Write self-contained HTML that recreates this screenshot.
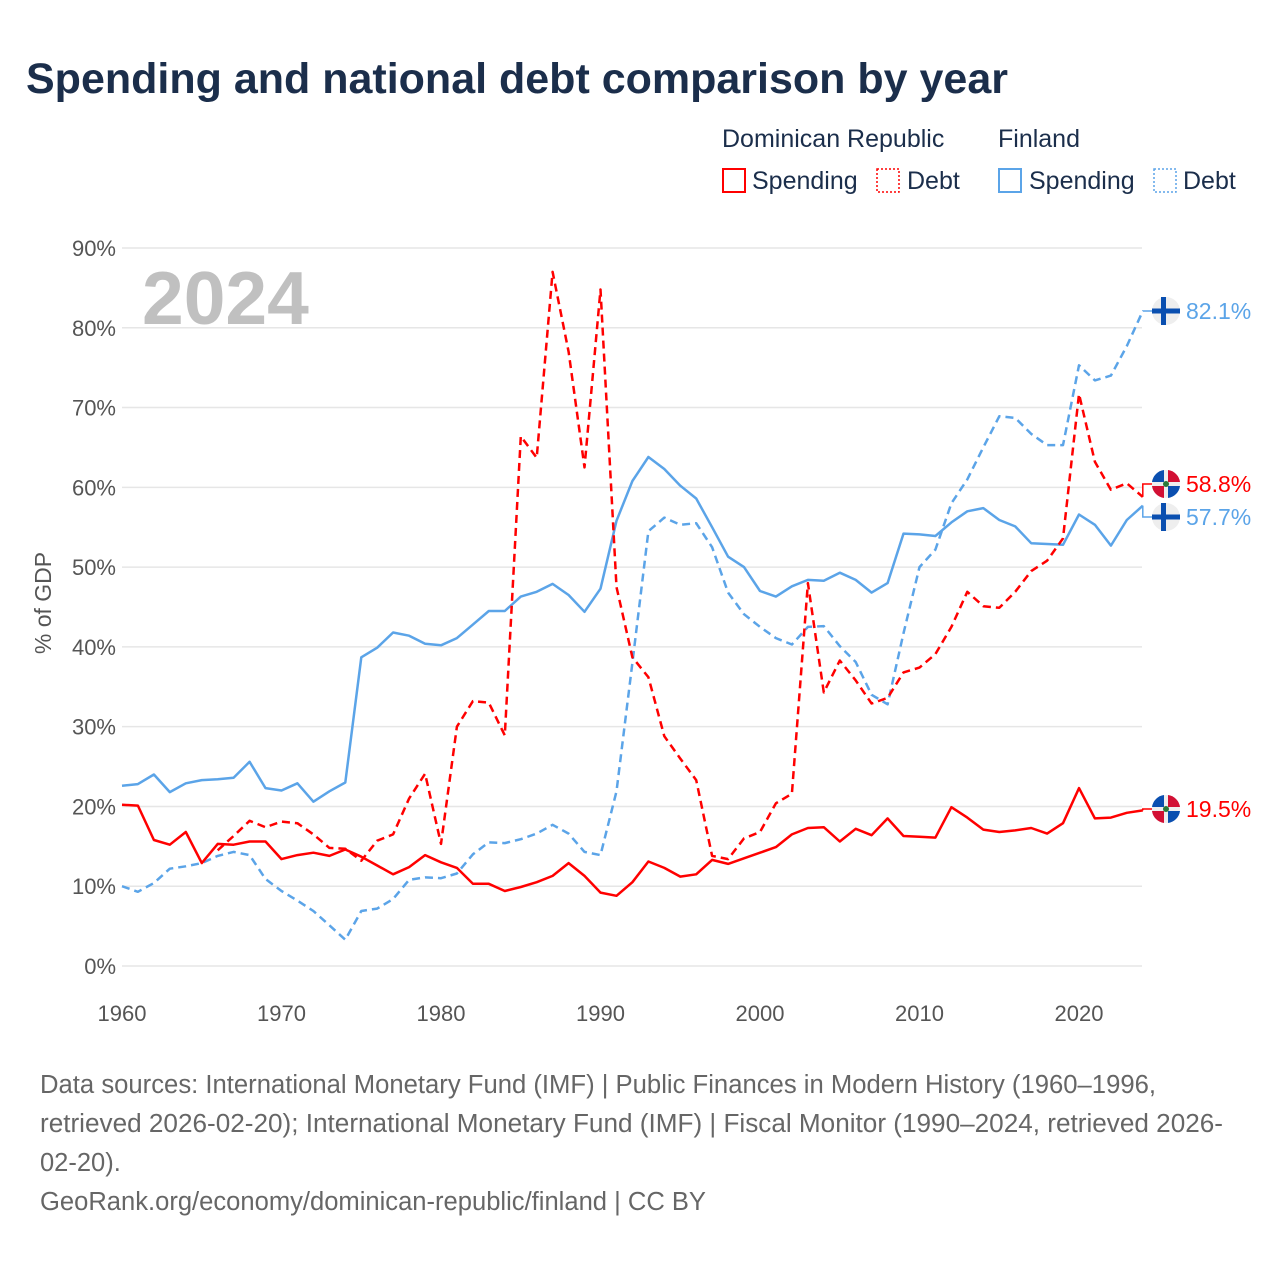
<!DOCTYPE html>
<html><head><meta charset="utf-8"><style>
body{margin:0;background:#fff;font-family:"Liberation Sans",sans-serif;}
#wrap{position:relative;width:1280px;height:1280px;overflow:hidden;}
</style></head><body>
<div id="wrap">
<svg id="chart" width="1280" height="1280">
<text x="26" y="93" font-size="43" font-weight="bold" fill="#1b2e4b">Spending and national debt comparison by year</text>
<g font-size="25" fill="#1b2e4b">
<text x="722" y="147">Dominican Republic</text>
<text x="998" y="147">Finland</text>
<g><rect x="723" y="169" width="22" height="23" fill="none" stroke="#f00" stroke-width="2"/><text x="752" y="189">Spending</text></g>
<g><rect x="877" y="169" width="22" height="23" fill="none" stroke="#f00" stroke-width="1.5" stroke-dasharray="2,2"/><text x="907" y="189">Debt</text></g>
<g><rect x="999" y="169" width="22" height="23" fill="none" stroke="#5ba4e8" stroke-width="2"/><text x="1029" y="189">Spending</text></g>
<g><rect x="1154" y="169" width="22" height="23" fill="none" stroke="#5ba4e8" stroke-width="1.5" stroke-dasharray="2,2"/><text x="1183" y="189">Debt</text></g>
</g>
<text x="142" y="324" font-size="75" font-weight="bold" fill="#c0c0c0">2024</text>
<text transform="translate(51,603) rotate(-90)" text-anchor="middle" font-size="23" fill="#555">% of GDP</text>
<g id="grid"></g><g id="series"></g><g id="ends"></g>
<g font-size="25.5" fill="#666">
<text x="40" y="1093" textLength="1116" lengthAdjust="spacingAndGlyphs">Data sources: International Monetary Fund (IMF) | Public Finances in Modern History (1960–1996,</text>
<text x="40" y="1132" textLength="1183" lengthAdjust="spacingAndGlyphs">retrieved 2026-02-20); International Monetary Fund (IMF) | Fiscal Monitor (1990–2024, retrieved 2026-</text>
<text x="40" y="1171">02-20).</text>
<text x="40" y="1210" textLength="666" lengthAdjust="spacingAndGlyphs">GeoRank.org/economy/dominican-republic/finland | CC BY</text>
</g>
</svg>
</div>
<script>
const startYear = 1960;
const yTicks = [0,10,20,30,40,50,60,70,80,90];
const xTicks = [1960,1970,1980,1990,2000,2010,2020];
const drSpending = [20.2,20.1,15.8,15.2,16.8,12.9,15.3,15.2,15.6,15.6,13.4,13.9,14.2,13.8,14.6,13.7,12.6,11.5,12.4,13.9,13.0,12.3,10.3,10.3,9.4,9.9,10.5,11.3,12.9,11.3,9.2,8.8,10.5,13.1,12.3,11.2,11.5,13.3,12.8,13.5,14.2,14.9,16.5,17.3,17.4,15.6,17.2,16.4,18.5,16.3,16.2,16.1,19.9,18.6,17.1,16.8,17.0,17.3,16.6,17.9,22.3,18.5,18.6,19.2,19.5];
const drDebt = [null,null,null,null,null,null,14.5,16.3,18.2,17.4,18.1,17.9,16.5,14.8,14.7,13.2,15.7,16.5,21.0,24.1,15.3,30.0,33.2,33.0,28.9,66.4,63.7,87.0,77.0,62.5,84.8,47.5,38.7,36.2,28.8,26.0,23.3,13.8,13.4,16.0,16.8,20.4,21.6,48.0,34.3,38.3,35.8,32.9,33.6,36.8,37.4,39.1,42.5,46.9,45.1,44.9,46.9,49.5,50.8,53.6,71.7,63.2,59.7,60.5,58.8];
const fiSpending = [22.6,22.8,24.0,21.8,22.9,23.3,23.4,23.6,25.6,22.3,22.0,22.9,20.6,21.9,23.0,38.7,39.9,41.8,41.4,40.4,40.2,41.1,42.8,44.5,44.5,46.3,46.9,47.9,46.5,44.4,47.3,55.8,60.8,63.8,62.3,60.2,58.6,55.0,51.3,50.0,47.0,46.3,47.6,48.4,48.3,49.3,48.4,46.8,48.0,54.2,54.1,53.9,55.6,57.0,57.4,55.9,55.1,53.0,52.9,52.8,56.6,55.3,52.7,55.9,57.7];
const fiDebt = [10.0,9.3,10.4,12.2,12.5,12.9,13.8,14.3,13.9,10.9,9.4,8.2,6.9,5.1,3.3,6.9,7.2,8.4,10.8,11.1,11.0,11.6,14.0,15.5,15.4,15.9,16.6,17.7,16.6,14.3,13.9,21.9,38.0,54.5,56.2,55.3,55.5,52.5,46.8,44.1,42.5,41.1,40.3,42.5,42.6,40.1,38.1,34.0,32.8,41.7,50.0,52.2,58.0,61.0,65.0,68.9,68.7,66.7,65.3,65.3,75.3,73.4,74.0,77.7,82.1];

const NS="http://www.w3.org/2000/svg";
const xs = y => 122 + (y-1960)*(957/60);
const ys = v => 966 - v*(718/90);
function mk(tag, attrs, parent){const e=document.createElementNS(NS,tag);for(const k in attrs)e.setAttribute(k,attrs[k]);parent.appendChild(e);return e;}
const grid=document.getElementById('grid');
yTicks.forEach(t=>{
  const l=mk('line',{x1:122,x2:1142,y1:ys(t),y2:ys(t),stroke:'#e6e6e6','stroke-width':1.5},grid);
  
  
  const tx=mk('text',{x:116,y:ys(t)+8,'text-anchor':'end','font-size':22,fill:'#555'},grid);
  tx.textContent=t+'%';
  
  
});
xTicks.forEach(t=>{
  const tx=mk('text',{x:xs(t),y:1021,'text-anchor':'middle','font-size':22,fill:'#555'},grid);
  tx.textContent=t;
  
  
});
const ser=document.getElementById('series');
function line(vals,color,dash,name){
  let d='';
  vals.forEach((v,i)=>{if(v==null)return;d+=(d?'L':'M')+xs(startYear+i).toFixed(1)+','+ys(v).toFixed(1);});
  const p=mk('path',{d:d,fill:'none',stroke:color,'stroke-width':2.5,'stroke-linejoin':'round'},ser);
  if(dash)p.setAttribute('stroke-dasharray','8,5');
  
  
}
line(fiDebt,'#5ba4e8',true,'line-finland-debt');
line(fiSpending,'#5ba4e8',false,'line-finland-spending');
line(drDebt,'#f00',true,'line-dr-debt');
line(drSpending,'#f00',false,'line-dr-spending');

const ends=document.getElementById('ends');
const lastX=xs(2024);
function endLabel(val,labelY,color,flag,name){
  const y0=ys(val);
  const c=mk('path',{d:`M${lastX},${y0}L${lastX},${labelY}L1152,${labelY}`,fill:'none',stroke:color,'stroke-width':1.5},ends);
  
  
  const g=mk('g',{},ends);
  
  
  const cx=1166;
  mk('circle',{cx:cx,cy:labelY,r:14,fill:'#eee'},g);
  if(flag==='fi'){
    mk('rect',{x:cx-14,y:labelY-2.5,width:28,height:5,fill:'#0a4fb0'},g);
    mk('rect',{x:cx-5,y:labelY-14,width:5,height:28,fill:'#0a4fb0'},g);
  }else{
    mk('path',{d:`M${cx-14},${labelY-2}A14,14 0 0 1 ${cx-2},${labelY-14}L${cx-2},${labelY-2}Z`,fill:'#0a4fb0'},g);
    mk('path',{d:`M${cx+2},${labelY-14}A14,14 0 0 1 ${cx+14},${labelY-2}L${cx+2},${labelY-2}Z`,fill:'#d21034'},g);
    mk('path',{d:`M${cx-14},${labelY+2}A14,14 0 0 0 ${cx-2},${labelY+14}L${cx-2},${labelY+2}Z`,fill:'#d21034'},g);
    mk('path',{d:`M${cx+2},${labelY+14}A14,14 0 0 0 ${cx+14},${labelY+2}L${cx+2},${labelY+2}Z`,fill:'#0a4fb0'},g);
    mk('circle',{cx:cx,cy:labelY,r:3,fill:'#2a7a3a'},g);
  }
  const t=mk('text',{x:1186,y:labelY+8,'font-size':23,fill:color},ends);
  t.textContent=val.toFixed(1)+'%';
  
  
}
endLabel(fiDebt[fiDebt.length-1],311,'#5ba4e8','fi','end-label-finland-debt');
endLabel(drDebt[drDebt.length-1],484,'#f00','dr','end-label-dr-debt');
endLabel(fiSpending[fiSpending.length-1],517,'#5ba4e8','fi','end-label-finland-spending');
endLabel(drSpending[drSpending.length-1],809,'#f00','dr','end-label-dr-spending');
</script>
</body></html>
